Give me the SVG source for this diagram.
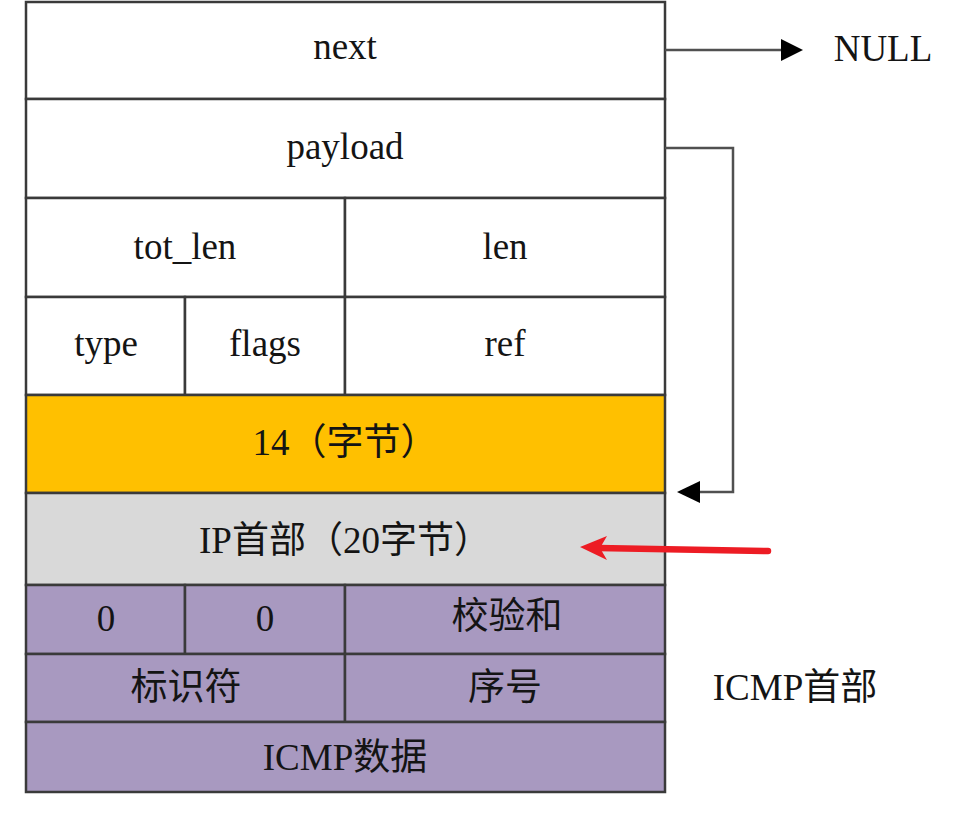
<svg xmlns="http://www.w3.org/2000/svg" width="972" height="833" viewBox="0 0 972 833">
  <style>
    .cell { stroke: #3a3a3a; stroke-width: 2.5; }
    .white { fill: #ffffff; }
    .yellow { fill: #ffc000; }
    .gray { fill: #d9d9d9; }
    .purple { fill: #a899c0; }
    text { font-family: "Liberation Serif", "Noto Sans CJK SC", serif; font-size: 37px; fill: #141414; text-anchor: middle; }
    .wire { fill: none; stroke: #505050; stroke-width: 2.5; }
    .head { fill: #000000; }
    .red { fill: none; stroke: #ed1c24; stroke-width: 6.5; stroke-linecap: round; }
  </style>

  <!-- pbuf structure fields -->
  <g id="next">
    <rect class="cell white" x="26" y="2" width="639" height="97"/>
    <text x="345" y="59">next</text>
  </g>
  <g id="payload">
    <rect class="cell white" x="26" y="99" width="639" height="99"/>
    <text x="345" y="159">payload</text>
  </g>
  <g id="tot_len">
    <rect class="cell white" x="26" y="198" width="319" height="99"/>
    <text x="185" y="259">tot_len</text>
  </g>
  <g id="len">
    <rect class="cell white" x="345" y="198" width="320" height="99"/>
    <text x="505" y="259">len</text>
  </g>
  <g id="type">
    <rect class="cell white" x="26" y="297" width="159" height="98"/>
    <text x="106" y="356">type</text>
  </g>
  <g id="flags">
    <rect class="cell white" x="185" y="297" width="160" height="98"/>
    <text x="265" y="356">flags</text>
  </g>
  <g id="ref">
    <rect class="cell white" x="345" y="297" width="320" height="98"/>
    <text x="505" y="356">ref</text>
  </g>

  <!-- Ethernet header space -->
  <g id="eth">
    <rect class="cell yellow" x="26" y="395" width="639" height="98"/>
    <text x="345" y="455">14（字节）</text>
  </g>

  <!-- IP header -->
  <g id="ip">
    <rect class="cell gray" x="26" y="493" width="639" height="92"/>
    <text x="345" y="553">IP首部（20字节）</text>
  </g>

  <!-- ICMP header and data -->
  <g id="icmp-type">
    <rect class="cell purple" x="26" y="585" width="159" height="69"/>
    <text x="106" y="631">0</text>
  </g>
  <g id="icmp-code">
    <rect class="cell purple" x="185" y="585" width="160" height="69"/>
    <text x="265" y="631">0</text>
  </g>
  <g id="icmp-checksum">
    <rect class="cell purple" x="345" y="585" width="320" height="69"/>
    <text x="507" y="629">校验和</text>
  </g>
  <g id="icmp-id">
    <rect class="cell purple" x="26" y="654" width="319" height="68"/>
    <text x="186" y="700">标识符</text>
  </g>
  <g id="icmp-seq">
    <rect class="cell purple" x="345" y="654" width="320" height="68"/>
    <text x="505" y="700">序号</text>
  </g>
  <g id="icmp-data">
    <rect class="cell purple" x="26" y="722" width="639" height="70"/>
    <text x="345" y="770">ICMP数据</text>
  </g>

  <!-- side labels -->
  <g id="null-label">
    <text x="883" y="61">NULL</text>
  </g>
  <g id="icmp-header-label">
    <text x="795" y="700">ICMP首部</text>
  </g>

  <!-- pointers -->
  <g id="connectors">
    <line class="wire" x1="665" y1="50" x2="783" y2="50"/>
    <polygon class="head" points="803,50 781,39 781,61"/>
    <polyline class="wire" points="665,148 733,148 733,492 698,492"/>
    <polygon class="head" points="677,492 700,481 700,503"/>
    <line class="red" x1="768" y1="551" x2="598" y2="548"/>
    <polygon fill="#ed1c24" points="580,547 607,536 600,548 607,560"/>
  </g>
</svg>
